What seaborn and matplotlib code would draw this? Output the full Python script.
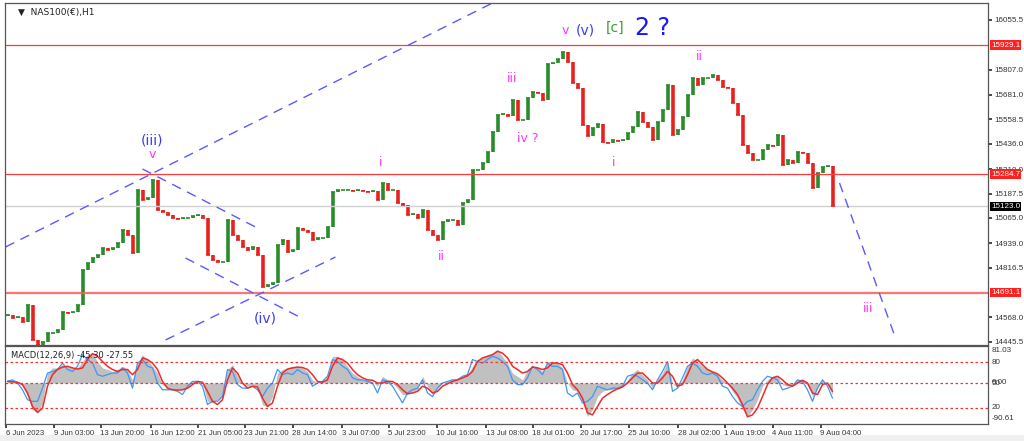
import numpy as np
import pandas as pd
import matplotlib
matplotlib.use("Agg")
import matplotlib.pyplot as plt
import matplotlib.transforms as mtransforms
import seaborn as sns

# NAS100 H1 closes, one value per ~7 hourly bars
closes = [14580, 14565, 14570, 14545, 14630, 14455, 14430, 14445, 14490, 14490,
          14505, 14595, 14590, 14595, 14630, 14805, 14840, 14865, 14880, 14915,
          14905, 14915, 14940, 15005, 14980, 14890, 15205, 15155, 15165, 15255,
          15105, 15095, 15080, 15065, 15060, 15065, 15065, 15075, 15080, 15065,
          14880, 14855, 14845, 14845, 15055, 14980, 14955, 14920, 14905, 14920,
          14880, 14720, 14730, 14740, 14930, 14955, 14895, 14905, 15015, 15005,
          14995, 14955, 14965, 14965, 15020, 15195, 15205, 15205, 15205, 15200,
          15205, 15200, 15195, 15200, 15155, 15240, 15205, 15205, 15140, 15130,
          15080, 15085, 15065, 15105, 15005, 14980, 14955, 15045, 15055, 15055,
          15030, 15140, 15155, 15305, 15305, 15340, 15395, 15495, 15580, 15585,
          15575, 15655, 15555, 15555, 15665, 15695, 15690, 15655, 15835, 15840,
          15860, 15895, 15845, 15740, 15715, 15530, 15475, 15515, 15535, 15445,
          15440, 15455, 15450, 15455, 15490, 15520, 15595, 15545, 15520, 15455,
          15545, 15605, 15730, 15480, 15505, 15570, 15680, 15765, 15730, 15765,
          15765, 15780, 15755, 15720, 15715, 15640, 15580, 15430, 15390, 15355,
          15355, 15405, 15430, 15425, 15480, 15330, 15355, 15340, 15395, 15390,
          15340, 15215, 15290, 15320, 15325, 15123]
first_open = 14575

# MACD panel
macd_hist = [8, 7, 4, -8, -34, -67, -75, -50, 25, 38,
             38, 46, 42, 38, 38, 54, 71, 75, 54, 38,
             34, 29, 34, 42, 34, 8, 50, 71, 59, 42,
             25, -4, -13, -17, -17, -17, -13, 4, 4, 0,
             -46, -50, -42, -34, 34, 46, 17, 0, -8, -4,
             -13, -55, -59, -34, 25, 34, 38, 42, 42, 38,
             29, 8, 0, 4, 17, 67, 67, 59, 42, 25,
             17, 8, 8, 4, -8, 17, 8, 0, -13, -29,
             -29, -21, -17, 17, -8, -29, -13, 0, 4, 8,
             8, 17, 21, 42, 59, 63, 71, 75, 84, 67,
             50, 25, 17, 8, 34, 42, 42, 29, 54, 54,
             50, 38, 0, -17, -21, -50, -84, -67, -34, -21,
             -17, -17, -13, -8, 8, 25, 34, 21, 8, -13,
             8, 25, 54, 0, -13, 8, 42, 63, 54, 42,
             34, 29, 21, 8, 0, -21, -38, -67, -84, -67,
             -42, -8, 8, 17, 17, -4, -8, -4, 8, 8,
             -4, -34, -13, 8, -4, -29]
macd_signal = [4, 3, 2, -4, -25, -59, -74, -63, -8, 21,
               34, 40, 42, 38, 35, 38, 59, 74, 67, 54,
               42, 34, 29, 34, 34, 21, 34, 63, 59, 50,
               34, 4, -13, -17, -18, -17, -13, -4, 4, 2,
               -21, -46, -54, -42, 8, 38, 25, 0, -13, -8,
               -10, -38, -59, -50, -8, 25, 35, 38, 40, 39,
               34, 21, 4, 2, 8, 42, 63, 59, 50, 34,
               21, 13, 8, 7, 0, 0, 4, 4, -4, -17,
               -27, -25, -21, -8, -13, -25, -21, -8, -2, 4,
               8, 13, 18, 29, 54, 63, 67, 71, 80, 75,
               63, 42, 34, 25, 29, 40, 38, 34, 38, 50,
               50, 46, 25, -4, -17, -38, -75, -80, -59, -38,
               -29, -21, -15, -10, 0, 13, 25, 25, 13, 0,
               0, 13, 29, 17, -8, -4, 21, 50, 59, 46,
               34, 28, 23, 13, 0, -13, -29, -54, -85, -80,
               -63, -34, -4, 13, 17, 8, -4, -8, 0, 7,
               0, -25, -29, -4, 0, -21]
macd_fast = [4, 8, 0, -17, -42, -46, -46, -13, 25, 29,
             34, 50, 34, 29, 42, 71, 59, 50, 21, 17,
             21, 25, 25, 38, 25, -13, 50, 59, 42, 38,
             0, -17, -17, -17, -21, -29, -8, 4, 4, -8,
             -54, -46, -46, -34, 34, 29, -4, -13, -13, -8,
             -17, -34, -13, 0, 34, 21, 25, 21, 34, 25,
             21, -8, 0, 4, 17, 59, 54, 42, 34, 13,
             8, 8, 4, 0, -25, 8, 4, -8, -29, -50,
             -25, -17, -13, 8, -25, -34, -13, 0, 4, 8,
             8, 17, 21, 59, 54, 50, 59, 67, 63, 54,
             42, 8, -4, -4, 13, 42, 34, 21, 50, 42,
             42, 34, -25, -34, -25, -50, -46, -34, -8, -13,
             -17, -13, -13, -8, 17, 21, 17, 8, 0, -17,
             8, 29, 54, -21, -13, 13, 42, 50, 42, 25,
             21, 25, 17, -8, -13, -34, -50, -59, -46, -42,
             -17, 4, 17, 13, 8, -17, -13, -8, 8, 4,
             -17, -46, -13, 8, -8, -38]
macd_levels = [52, 0, -62]

# levels and labels
red_levels = [15929.1, 15284.7, 14691.1]
last_price = 15123.0
price_ticks = [16055.5, 15807.0, 15681.0, 15558.5, 15436.0, 15310.0, 15187.5,
               15065.0, 14939.0, 14816.5, 14568.0, 14445.5]
time_pos = [-0.4, 9.2, 18.6, 28.6, 38, 47.4, 57, 66.8, 76.2, 85.8, 95.6, 105,
            114.6, 124.2, 134, 143.4, 153, 162.6]
time_labels = ["6 Jun 2023", "9 Jun 03:00", "13 Jun 20:00", "16 Jun 12:00",
               "21 Jun 05:00", "23 Jun 21:00", "28 Jun 14:00", "3 Jul 07:00",
               "5 Jul 23:00", "10 Jul 16:00", "13 Jul 08:00", "18 Jul 01:00",
               "20 Jul 17:00", "25 Jul 10:00", "28 Jul 02:00", "1 Aug 19:00",
               "4 Aug 11:00", "9 Aug 04:00"]

# trend lines (bar index, price)
trend_lines = [
    [(-0.4, 14920), (97, 16140)],
    [(31.6, 14455), (65.6, 14870)],
    [(27, 15310), (49.6, 15020)],
    [(35.6, 14865), (58.4, 14570)],
    [(166.4, 15240), (177.6, 14465)],
]

# wave labels: text, bar index, price, colour, size
wave_labels = [
    ("(iii)", 29, 15455, "#3b3bf0", 10),
    ("v", 29, 15380, "#ff33ff", 9),
    ("(iv)", 51.6, 14565, "#3b3bf0", 10),
    ("i", 74.6, 15345, "#ff33ff", 9),
    ("ii", 86.8, 14870, "#ff33ff", 9),
    ("iii", 101, 15765, "#ff33ff", 9),
    ("iv ?", 104, 15465, "#ff33ff", 9),
    ("v", 111.6, 16000, "#ff33ff", 9),
    ("(v)", 115.6, 16000, "#3b3bf0", 10),
    ("[c]", 121.6, 16015, "#3c9a3c", 10),
    ("2 ?", 129, 16015, "#1616ff", 17),
    ("i", 121.2, 15345, "#ff33ff", 9),
    ("ii", 138.4, 15870, "#ff33ff", 9),
    ("iii", 172.2, 14615, "#ff33ff", 9),
]

sns.set_theme(style="white")
plt.rcParams["font.family"] = ["DejaVu Sans"]
small = "Liberation Sans"

df = pd.DataFrame({"close": closes})
df["open"] = df["close"].shift(1).fillna(first_open)
df["idx"] = np.arange(len(df))
df["up"] = df["close"] >= df["open"]

fig = plt.figure(figsize=(10.24, 4.41), dpi=100)
fig.patch.set_facecolor("white")
ax = fig.add_axes([5 / 1024, 96 / 441, 983 / 1024, 342 / 441])
ax2 = fig.add_axes([5 / 1024, 17 / 441, 983 / 1024, 78 / 441])

xmin, xmax = -0.5, 196.1

# candles
for up, col in [(True, "#2a8c2a"), (False, "#e8211f")]:
    d = df[df["up"] == up]
    ax.vlines(d["idx"], d["open"], d["close"], color=col, lw=2.6)
    ax.scatter(d["idx"], d["close"], marker="_", s=10, color=col, lw=1.2, zorder=3)

for lv in red_levels:
    if lv == 14691.1:
        ax.axhline(lv, color="#ff5a5a", lw=1.6, alpha=0.85)
    else:
        ax.axhline(lv, color="#ff3b3b", lw=0.9)
ax.axhline(last_price, color="#d0d0d0", lw=1)

for (x0, y0), (x1, y1) in trend_lines:
    ax.plot([x0, x1], [y0, y1], color="#5a5aff", lw=1, dashes=(7, 5))

for txt, xi, yi, col, fs in wave_labels:
    ax.text(xi, yi, txt, color=col, fontsize=fs, ha="center", va="center")

ax.set_xlim(xmin, xmax)
ax.set_ylim(14430, 16140)
ax.yaxis.tick_right()
ax.set_yticks(price_ticks)
ax.set_yticklabels([f"{v:.1f}" for v in price_ticks], family=small)
ax.tick_params(axis="y", labelsize=5.8, length=3, direction="out", pad=1.5, colors="#333333", right=True)
ax.set_xticks([])
for s in ax.spines.values():
    s.set_color("#555555")
    s.set_linewidth(0.9)

trans = mtransforms.blended_transform_factory(ax.transAxes, ax.transData)
for lv in red_levels:
    ax.text(1.003, lv, f"{lv:.1f}", transform=trans, fontsize=5.8, family=small, color="white",
            va="center", ha="left", bbox=dict(boxstyle="square,pad=0.15", fc="#ff2020", ec="none"))
ax.text(1.003, last_price, f"{last_price:.1f}", transform=trans, fontsize=5.8, family=small,
        color="white", va="center", ha="left", bbox=dict(boxstyle="square,pad=0.15", fc="black", ec="none"))
ax.text(0.013, 0.985, "\u25bc  NAS100(\u20ac),H1", transform=ax.transAxes, fontsize=6.5, va="top",
        ha="left", color="#222222")

# MACD panel
m = pd.DataFrame({"idx": np.arange(len(macd_hist)), "hist": macd_hist,
                  "signal": macd_signal, "fast": macd_fast})
ax2.fill_between(m["idx"], 0, m["hist"], color="#c0c0c0", lw=0)
sns.lineplot(data=m, x="idx", y="fast", ax=ax2, color="#3d97f5", lw=0.9)
sns.lineplot(data=m, x="idx", y="signal", ax=ax2, color="#f02a2a", lw=1.1)
for lv in macd_levels:
    ax2.axhline(lv, color="#ff3030", lw=0.9, ls=(0, (2, 2)))
ax2.set_xlim(xmin, xmax)
ax2.set_ylim(-103, 93)
ax2.set_ylabel("")
ax2.set_xlabel("")
ax2.set_yticks([])
ax2.set_xticks(time_pos)
ax2.set_xticklabels(time_labels, ha="left", family=small)
ax2.tick_params(axis="x", labelsize=5.6, length=3, direction="out", pad=1.5, colors="#333333", bottom=True)
for s in ax2.spines.values():
    s.set_color("#555555")
    s.set_linewidth(0.9)
ax2.text(0.006, 0.93, "MACD(12,26,9) -45.30 -27.55", transform=ax2.transAxes, fontsize=6,
         va="top", ha="left", color="#222222")
trans2 = mtransforms.blended_transform_factory(ax2.transAxes, ax2.transData)
for txt, v in [("81.03", 81), ("80", 52), ("50", 0), ("0.00", 1), ("20", -62), ("-90.61", -90)]:
    ax2.text(1.004, v, txt, transform=trans2, fontsize=5.8, family=small, va="center", ha="left",
             color="#333333")

fig.patches.append(plt.Rectangle((0, 0), 1, 6 / 441, transform=fig.transFigure, fc="#f0f0f0", ec="none"))

fig.savefig("out.png", dpi=100)
